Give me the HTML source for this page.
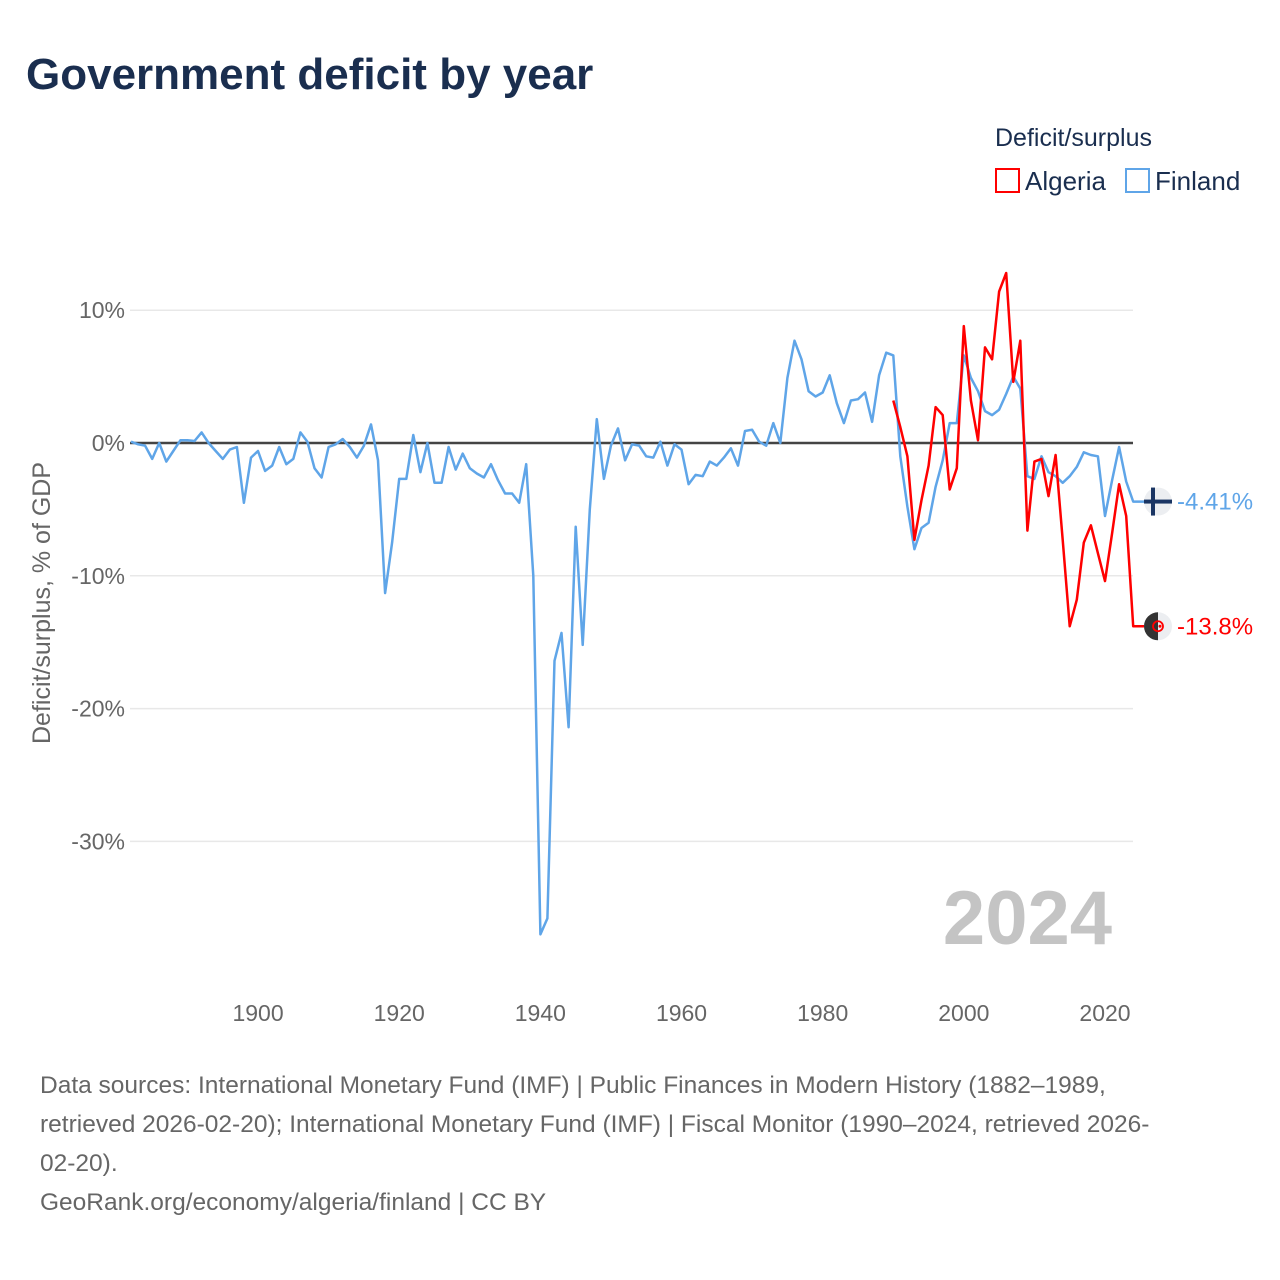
<!DOCTYPE html>
<html><head><meta charset="utf-8"><style>
body{margin:0;background:#fff;font-family:"Liberation Sans",sans-serif}
#wrap{position:relative;width:1280px;height:1280px;overflow:hidden}
.t{position:absolute;white-space:nowrap}
</style></head><body>
<div id="wrap">
<div class="t" style="left:26px;top:50px;font-size:44px;font-weight:bold;color:#1a2e4f">Government deficit by year</div>
<div class="t" style="left:995px;top:124px;font-size:25px;color:#1a2e4f">Deficit/surplus</div>
<div class="t" style="left:995px;top:166px;font-size:26px;color:#1a2e4f"><span style="display:inline-block;border:2px solid #f00;vertical-align:-3px;box-sizing:border-box;margin-right:5px;width:25px;height:25px"></span>Algeria</div>
<div class="t" style="left:1125px;top:166px;font-size:26px;color:#1a2e4f"><span style="display:inline-block;border:2px solid #5fa5e8;vertical-align:-3px;box-sizing:border-box;margin-right:5px;width:25px;height:25px"></span>Finland</div>
<div class="t" style="left:40px;top:1066px;font-size:24.5px;line-height:39px;color:#666">Data sources: International Monetary Fund (IMF) | Public Finances in Modern History (1882–1989,<br>retrieved 2026-02-20); International Monetary Fund (IMF) | Fiscal Monitor (1990–2024, retrieved 2026-<br>02-20).<br>GeoRank.org/economy/algeria/finland | CC BY</div>
<svg id="chart" width="1280" height="1280" style="position:absolute;left:0;top:0;font-family:'Liberation Sans',sans-serif"></svg>
</div>
<script>
const finlandStart = 1882;
const finlandValues = [0.1,-0.1,-0.2,-1.2,0,-1.4,-0.6,0.2,0.2,0.15,0.8,0,-0.6,-1.2,-0.5,-0.3,-4.5,-1.1,-0.6,-2.1,-1.7,-0.3,-1.6,-1.2,0.8,0.1,-1.9,-2.6,-0.3,-0.1,0.3,-0.3,-1.1,-0.2,1.4,-1.3,-11.3,-7.5,-2.7,-2.7,0.6,-2.2,0,-3,-3,-0.3,-2,-0.8,-1.9,-2.3,-2.6,-1.6,-2.8,-3.8,-3.8,-4.5,-1.6,-10,-37,-35.8,-16.4,-14.3,-21.4,-6.3,-15.2,-5,1.8,-2.7,-0.2,1.1,-1.3,-0.1,-0.2,-1.0,-1.1,0.1,-1.7,-0.1,-0.5,-3.1,-2.4,-2.5,-1.4,-1.7,-1.1,-0.4,-1.7,0.9,1.0,0.1,-0.2,1.5,0,4.9,7.7,6.3,3.9,3.5,3.8,5.1,3.0,1.5,3.2,3.3,3.8,1.6,5.1,6.8,
6.6,-1.0,-4.8,-8.0,-6.4,-6.0,-3.3,-1.3,1.5,1.5,6.6,4.9,3.9,2.4,2.1,2.5,3.7,5.0,4.1,-2.5,-2.7,-1.0,-2.2,-2.5,-3.0,-2.5,-1.8,-0.7,-0.9,-1.0,-5.5,-2.8,-0.3,-2.9,-4.41];
const algeriaStart = 1990;
const algeriaValues = [3.2,1.2,-1.0,-7.3,-4.3,-1.7,2.7,2.1,-3.5,-1.9,8.8,3.2,0.2,7.2,6.3,11.4,12.8,4.6,7.7,-6.6,-1.4,-1.2,-4.0,-0.9,-7.3,-13.8,-11.8,-7.5,-6.2,-8.3,-10.4,-6.8,-3.1,-5.5,-13.8];
const yTicks = [10,0,-10,-20,-30];
const xTicks = [1900,1920,1940,1960,1980,2000,2020];
const NS='http://www.w3.org/2000/svg';
const svg=document.getElementById('chart');
const X=y=>131+(y-1882)*7.058;
const Y=v=>443-v*13.28;
function mk(tag,attrs,parent){const e=document.createElementNS(NS,tag);for(const k in attrs)e.setAttribute(k,attrs[k]);(parent||svg).appendChild(e);return e;}
yTicks.forEach(v=>{
  if(v!==0){const g=mk('line',{x1:130,x2:1133,y1:Y(v),y2:Y(v),stroke:'#e8e8e8','stroke-width':1.5});
  
  }
  const t=mk('text',{x:125,y:Y(v)+8,'text-anchor':'end','font-size':23,fill:'#666'});
  t.textContent=v+'%';
  
  
});
xTicks.forEach(yr=>{
  const t=mk('text',{x:X(yr),y:1021,'text-anchor':'middle','font-size':23,fill:'#666'});
  t.textContent=yr;
  
  
});
const z=mk('line',{x1:130,x2:1133,y1:Y(0),y2:Y(0),stroke:'#444','stroke-width':2.5});


const yt=mk('text',{x:0,y:0,'text-anchor':'middle','font-size':25,fill:'#666',transform:'translate(50,603) rotate(-90)'});
yt.textContent='Deficit/surplus, % of GDP';


const yr=mk('text',{x:1112,y:944,'text-anchor':'end','font-size':76,'font-weight':'bold',fill:'#c4c4c4'});
yr.textContent='2024';


function series(start,vals,color,name){
  const pts=vals.map((v,i)=>X(start+i).toFixed(1)+','+Y(v).toFixed(1));
  const last=vals[vals.length-1];
  pts.push('1146,'+Y(last).toFixed(1));
  const p=mk('polyline',{points:pts.join(' '),fill:'none',stroke:color,'stroke-width':2.5,'stroke-linejoin':'round'});
  
  
  const lab=mk('text',{x:1177,y:Y(last)+8,'font-size':24,fill:color});
  lab.textContent=(Math.abs(last)>=10?last.toFixed(1):last.toFixed(2))+'%';
  
  
  return Y(last);
}
const fy=series(finlandStart,finlandValues,'#5fa5e8','finland');
const ay=series(algeriaStart,algeriaValues,'#ff0000','algeria');
const fg=mk('g',{});


mk('circle',{cx:1158,cy:fy,r:14,fill:'#eceef1'},fg);
mk('rect',{x:1151,y:fy-14,width:4,height:28,fill:'#1a3563'},fg);
mk('rect',{x:1144,y:fy-2,width:28,height:4,fill:'#1a3563'},fg);
const ag=mk('g',{});


mk('circle',{cx:1158,cy:ay,r:14,fill:'#eceef1'},ag);
mk('path',{d:`M1158 ${ay-14} A14 14 0 0 0 1158 ${ay+14} Z`,fill:'#333'},ag);
mk('circle',{cx:1158,cy:ay,r:5,fill:'none',stroke:'#f00','stroke-width':1.8},ag);
mk('circle',{cx:1160,cy:ay,r:1.5,fill:'#f00'},ag);
</script>
</body></html>
